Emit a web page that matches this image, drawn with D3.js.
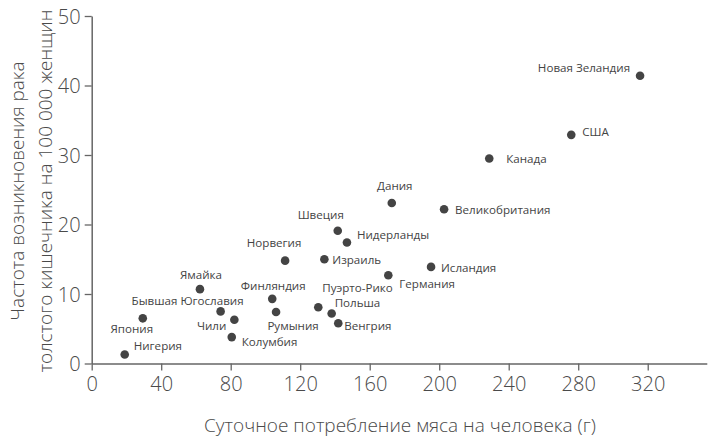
<!DOCTYPE html>
<html>
<head>
<meta charset="utf-8">
<script src="https://cdn.jsdelivr.net/npm/d3@7"></script>
<style>
  body { margin: 0; background: #fff; }
  svg { display: block; font-family: "Open Sans", "DejaVu Sans", sans-serif; }
</style>
</head>
<body>
<div id="chart"></div>
<script>
// countries, meat per day (g), colon cancer rate per 100 000 women
var countries = ["Новая Зеландия", "США", "Канада", "Дания", "Великобритания", "Швеция",
    "Нидерланды", "Норвегия", "Израиль", "Исландия", "Германия", "Ямайка", "Финляндия",
    "Пуэрто-Рико", "Польша", "Бывшая Югославия", "Румыния", "Чили", "Япония", "Венгрия",
    "Колумбия", "Нигерия"];
var meat = [315.6, 276.0, 228.8, 172.7, 202.8, 141.6, 146.9, 111.3, 133.9, 195.3, 170.7,
    62.3, 103.9, 130.4, 138.1, 74.2, 106.1, 82.1, 29.4, 141.9, 80.6, 19.0];
var cancer = [41.4, 32.9, 29.5, 23.1, 22.2, 19.1, 17.4, 14.8, 15.0, 13.9, 12.7,
    10.7, 9.3, 8.1, 7.2, 7.5, 7.4, 6.3, 6.5, 5.8, 3.8, 1.3];
var xTicks = [0, 40, 80, 120, 160, 200, 240, 280, 320];
var yTicks = [0, 10, 20, 30, 40, 50];

// label placement next to each dot: [anchor, dx, dy]
var labelPos = [
    ["end", -10, -4], ["start", 11, 1], ["start", 17, 5], ["middle", 3, -13],
    ["start", 11, 5], ["middle", -17, -12], ["start", 10, -4], ["middle", -11, -14],
    ["start", 8, 5], ["start", 10, 5], ["start", 11, 13], ["middle", 1, -10],
    ["middle", 1, -9], ["start", 4, -15], ["start", 3, -6], ["end", 23, -6],
    ["middle", 17, 18], ["end", -8, 10], ["middle", -11, 15], ["start", 6, 7],
    ["start", 10, 9], ["start", 9, -4]
];

var width = 712, height = 442;

var svg = d3.select("#chart").append("svg")
    .attr("width", width)
    .attr("height", height);

var x = d3.scaleLinear().domain([0, 354]).range([91.7, 706.8]);
var y = d3.scaleLinear().domain([0, 50]).range([363.5, 16]);

var axisColor = "#666";
var tickText = "#4a4a4a";

// x axis
var gx = svg.append("g")
    .attr("transform", "translate(0," + y(0) + ")")
    .call(d3.axisBottom(x).tickValues(xTicks).tickSize(7).tickSizeOuter(0).tickPadding(6));

// y axis
var gy = svg.append("g")
    .attr("transform", "translate(" + x(0) + ",0)")
    .call(d3.axisLeft(y).tickValues(yTicks).tickSize(7).tickSizeOuter(0).tickPadding(4));

[gx, gy].forEach(function(g) {
    g.select(".domain").attr("stroke", axisColor).attr("stroke-width", 1.5);
    g.selectAll(".tick line").attr("stroke", axisColor).attr("stroke-width", 1.3);
    g.selectAll(".tick text")
        .attr("fill", tickText)
        .style("font-family", "'Open Sans', sans-serif")
        .style("font-weight", 300)
        .style("font-size", "20px");
});
gy.selectAll(".tick text").attr("dy", "0.36em");

// axis titles
svg.append("text")
    .attr("x", 400)
    .attr("y", 432)
    .attr("text-anchor", "middle")
    .attr("fill", tickText)
    .style("font-weight", 300)
    .style("font-size", "19px")
    .text("Суточное потребление мяса на человека (г)");

var yTitle = svg.append("text")
    .attr("transform", "translate(24,191) rotate(-90)")
    .attr("text-anchor", "middle")
    .attr("fill", tickText)
    .style("font-weight", 300)
    .style("font-size", "19px");
yTitle.append("tspan").attr("x", 0).attr("y", 0).text("Частота возникновения рака");
yTitle.append("tspan").attr("x", 0).attr("y", 28).text("толстого кишечника на 100 000 женщин");

// dots and labels
var idx = d3.range(countries.length);

svg.append("g").selectAll("circle")
    .data(idx)
    .join("circle")
        .attr("cx", function(i) { return x(meat[i]); })
        .attr("cy", function(i) { return y(cancer[i]); })
        .attr("r", 4.3)
        .attr("fill", "#444");

svg.append("g").selectAll("text")
    .data(idx)
    .join("text")
        .attr("x", function(i) { return x(meat[i]) + labelPos[i][1]; })
        .attr("y", function(i) { return y(cancer[i]) + labelPos[i][2]; })
        .attr("text-anchor", function(i) { return labelPos[i][0]; })
        .attr("fill", "#444")
        .style("font-size", "11.6px")
        .text(function(i) { return countries[i]; });
</script>
</body>
</html>
